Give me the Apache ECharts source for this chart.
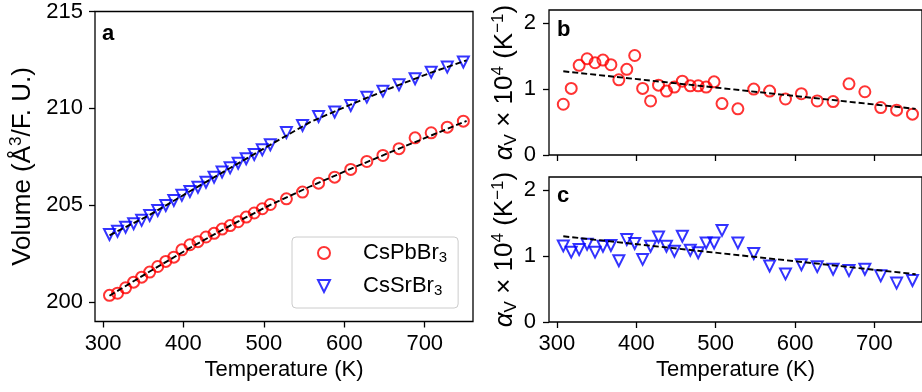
<!DOCTYPE html>
<html>
<head>
<meta charset="utf-8">
<script src="https://cdn.jsdelivr.net/npm/echarts@6.0.0/dist/echarts.min.js"></script>
<style>
html,body{margin:0;padding:0;background:#fff;}
#chart{width:922px;height:392px;}
</style>
</head>
<body>
<div id="chart"></div>
<script>
// ---- data ----
const temperature = [308,318,328,338,348,358,368,378,388,398,408,418,428,438,448,458,468,478,488,498,508,
                     528,548,568,588,608,628,648,668,688,708,728,748];
const volumePb = [200.35,200.46,200.74,201.03,201.29,201.55,201.84,202.10,202.32,202.70,202.96,203.12,203.36,203.55,203.77,203.95,204.15,204.39,204.60,204.82,205.04,
                  205.33,205.68,206.14,206.45,206.85,207.26,207.57,207.92,208.48,208.74,209.03,209.34];
const volumeSr = [203.49,203.66,203.87,204.05,204.22,204.47,204.73,204.99,205.25,205.51,205.71,205.93,206.19,206.45,206.71,206.93,207.17,207.40,207.62,207.86,208.12,
                  208.75,209.12,209.58,209.81,210.15,210.58,210.89,211.22,211.53,211.87,212.13,212.39];
const alphaPb = [0.77,1.01,1.36,1.46,1.40,1.44,1.37,1.14,1.30,1.51,1.01,0.82,1.06,0.97,1.03,1.12,1.05,1.05,1.03,1.11,0.78,
                 0.70,1.00,0.97,0.85,0.93,0.82,0.81,1.08,0.96,0.72,0.68,0.62];
const alphaSr = [1.155,1.06,1.10,1.18,1.06,1.15,1.16,0.93,1.25,1.19,0.95,1.15,1.29,1.15,1.075,1.30,1.09,1.05,1.20,1.20,1.39,
                 1.20,1.04,0.85,0.73,0.87,0.84,0.80,0.78,0.80,0.70,0.59,0.63];
const fitT = [308,358,408,458,508,558,608,658,708,752];
const fitVolumePb = [200.33,201.58,202.80,203.95,205.02,205.98,206.88,207.75,208.60,209.35];
const fitVolumeSr = [203.45,204.50,205.72,206.92,208.12,209.30,210.20,211.05,211.85,212.48];
const fitAlphaT = [308,752];
const fitAlphaPb = [1.27,0.70];
const fitAlphaSr = [1.30,0.725];
const xTicks = [300,400,500,600,700];
const volumeTicks = [200,205,210,215];
const alphaTicks = [0,1,2];

// ---- chart ----
const FONT = '"Liberation Sans", Arial, Helvetica, sans-serif';
const FS = 22;
const YFS = 26;
const pairs = (xs, ys) => xs.map((x, i) => [x, ys[i]]);

const chart = echarts.init(document.getElementById('chart'), null, {renderer: 'canvas'});

function xAxis(gridIndex, withName) {
  return {
    type: 'value', gridIndex, min: 290, max: 760,
    name: withName ? 'Temperature (K)' : '', nameLocation: 'middle', nameGap: 37,
    nameTextStyle: {fontFamily: FONT, fontSize: FS, color: '#000'},
    axisLine: {show: false},
    axisTick: {show: true, length: 6, lineStyle: {color: '#000', width: 1.3}, customValues: xTicks},
    axisLabel: {show: withName, margin: 11, fontFamily: FONT, fontSize: FS, color: '#000', customValues: xTicks},
    splitLine: {show: false}
  };
}
const richName = {
  n: {fontFamily: FONT, fontSize: YFS, lineHeight: 30, color: '#000'},
  i: {fontFamily: FONT, fontSize: YFS, lineHeight: 30, fontStyle: 'italic', color: '#000'},
  sup: {fontFamily: FONT, fontSize: 17, lineHeight: 17, verticalAlign: 'top', color: '#000'},
  sub: {fontFamily: FONT, fontSize: 17, lineHeight: 17, verticalAlign: 'bottom', color: '#000'}
};
function alphaAxis(gridIndex) {
  return {
    type: 'value', gridIndex, min: 0, max: 2.2,
    name: '{i|α}{sub|V}{n| × 10}{sup|4}{n| (K}{sup|−1}{n|)}',
    nameLocation: 'middle', nameRotate: 90, nameGap: 29,
    nameTextStyle: {rich: richName},
    axisLine: {show: false},
    axisTick: {show: true, length: 6, lineStyle: {color: '#000', width: 1.3}, customValues: alphaTicks},
    axisLabel: {margin: 13, fontFamily: FONT, fontSize: FS, color: '#000', customValues: alphaTicks},
    splitLine: {show: false}
  };
}
const gridStyle = {show: true, borderColor: '#000', borderWidth: 1.3, backgroundColor: 'transparent'};
const redMarker = {color: 'rgba(0,0,0,0)', borderColor: '#ff0000', borderWidth: 2};
const blueMarker = {color: 'rgba(0,0,0,0)', borderColor: '#0000ff', borderWidth: 2};
const dashStyle = {color: '#000', width: 1.9, type: [6, 3]};

const option = {
  animation: false,
  backgroundColor: '#fff',
  textStyle: {fontFamily: FONT},
  title: [
    {text: 'a', left: 102, top: 23, padding: 0, textStyle: {fontFamily: FONT, fontSize: FS, fontWeight: 'bold', color: '#000'}},
    {text: 'b', left: 557, top: 19, padding: 0, textStyle: {fontFamily: FONT, fontSize: FS, fontWeight: 'bold', color: '#000'}},
    {text: 'c', left: 557, top: 185, padding: 0, textStyle: {fontFamily: FONT, fontSize: FS, fontWeight: 'bold', color: '#000'}}
  ],
  grid: [
    Object.assign({left: 95, top: 11.5, width: 378, height: 310}, gridStyle),
    Object.assign({left: 549, top: 10, width: 378, height: 145}, gridStyle),
    Object.assign({left: 549, top: 177, width: 378, height: 145}, gridStyle)
  ],
  xAxis: [xAxis(0, true), xAxis(1, false), xAxis(2, true)],
  yAxis: [
    {
      type: 'value', gridIndex: 0, min: 199, max: 215,
      name: '{n|Volume (Å}{sup|3}{n|/F. U.)}',
      nameLocation: 'middle', nameRotate: 90, nameGap: 57,
      nameTextStyle: {rich: richName},
      axisLine: {show: false},
      axisTick: {show: true, length: 6, lineStyle: {color: '#000', width: 1.3}, customValues: volumeTicks},
      axisLabel: {margin: 12, fontFamily: FONT, fontSize: FS, color: '#000', customValues: volumeTicks},
      splitLine: {show: false}
    },
    alphaAxis(1),
    alphaAxis(2)
  ],
  legend: {
    orient: 'vertical', left: 292, top: 237,
    data: [
      {name: 'CsPbBr3', icon: 'circle'},
      {name: 'CsSrBr3', icon: 'path://M0,0 L20,0 L10,20 Z'}
    ],
    itemWidth: 12, itemHeight: 12, itemGap: 10,
    padding: [5, 11, 10, 25],
    backgroundColor: '#fff', borderColor: '#cccccc', borderWidth: 1, borderRadius: 4,
    itemStyle: {color: 'rgba(0,0,0,0)', borderWidth: 2},
    formatter: function (name) { return '{n|' + name.slice(0, -1) + '}{s|3}'; },
    textStyle: {
      rich: {
        n: {fontFamily: FONT, fontSize: FS, lineHeight: 24, color: '#000', padding: [0, 0, 0, 28]},
        s: {fontFamily: FONT, fontSize: 15, lineHeight: 15, verticalAlign: 'bottom', color: '#000'}
      }
    }
  },
  series: [
    {name: 'CsPbBr3', type: 'scatter', xAxisIndex: 0, yAxisIndex: 0, symbol: 'circle', symbolSize: 11,
     itemStyle: redMarker, data: pairs(temperature, volumePb), z: 2},
    {name: 'CsSrBr3', type: 'scatter', xAxisIndex: 0, yAxisIndex: 0, symbol: 'triangle', symbolRotate: 180, symbolSize: 11,
     itemStyle: blueMarker, data: pairs(temperature, volumeSr), z: 2},
    {name: 'fit Pb', type: 'line', xAxisIndex: 0, yAxisIndex: 0, showSymbol: false, symbol: 'none',
     lineStyle: dashStyle, data: pairs(fitT, fitVolumePb), z: 3},
    {name: 'fit Sr', type: 'line', xAxisIndex: 0, yAxisIndex: 0, showSymbol: false, symbol: 'none',
     lineStyle: dashStyle, data: pairs(fitT, fitVolumeSr), z: 3},
    {name: 'alpha Pb', type: 'scatter', xAxisIndex: 1, yAxisIndex: 1, symbol: 'circle', symbolSize: 11,
     itemStyle: redMarker, data: pairs(temperature, alphaPb), z: 2},
    {name: 'alpha fit Pb', type: 'line', xAxisIndex: 1, yAxisIndex: 1, showSymbol: false, symbol: 'none',
     lineStyle: dashStyle, data: pairs(fitAlphaT, fitAlphaPb), z: 3},
    {name: 'alpha Sr', type: 'scatter', xAxisIndex: 2, yAxisIndex: 2, symbol: 'triangle', symbolRotate: 180, symbolSize: 11,
     itemStyle: blueMarker, data: pairs(temperature, alphaSr), z: 2},
    {name: 'alpha fit Sr', type: 'line', xAxisIndex: 2, yAxisIndex: 2, showSymbol: false, symbol: 'none',
     lineStyle: dashStyle, data: pairs(fitAlphaT, fitAlphaSr), z: 3}
  ]
};
chart.setOption(option);
</script>
</body>
</html>
